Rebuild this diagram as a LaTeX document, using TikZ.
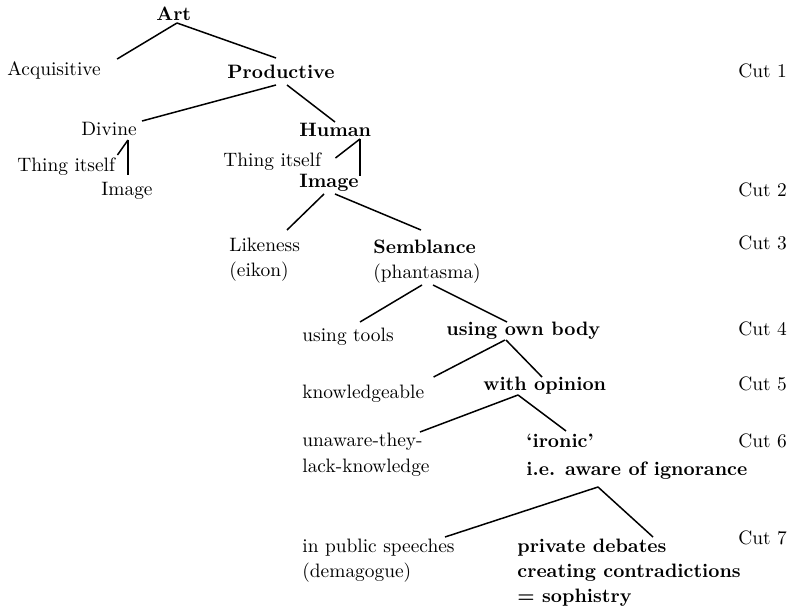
\documentclass[tikz,border=0pt]{standalone}
\usepackage{tikz}
\usetikzlibrary{calc}

\tikzset{
  lbl/.style={anchor=base west, inner sep=0pt, align=left, font=\fontsize{9.7}{12.5}\selectfont},
  key/.style={lbl, font=\fontsize{9.7}{12.5}\selectfont\bfseries},
  br/.style={line width=0.75pt, black},
}

\begin{document}
\begin{tikzpicture}[x=0.5pt,y=-0.5pt]
\useasboundingbox (0,0) rectangle (787,610);

% the division, top to bottom (multi-line nodes sit on their last line)
\node[key] (art) at (156,21) {Art};
\node[lbl] (acq) at (7,76) {Acquisitive};
\node[key] (prod) at (227,79) {Productive};
\node[lbl] (divine) at (81,135) {Divine};
\node[key] (human) at (299,136) {Human};
\node[lbl] (thing1) at (17,171) {Thing itself};
\node[lbl] (img1) at (101,195) {Image};
\node[lbl] (thing2) at (223,167) {Thing itself};
\node[key] (img2) at (299,187) {Image};
\node[lbl] (like) at (229,276) {Likeness\\(eikon)};
\node[lbl] (semb) at (373,278) {\textbf{Semblance}\\(phantasma)};
\node[lbl] (tools) at (302,341) {using tools};
\node[key] (body) at (446,335) {using own body};
\node[lbl] (knowl) at (302,398) {knowledgeable};
\node[key] (opin) at (483,390) {with opinion};
\node[lbl] (unaw) at (302,472) {unaware-they-\\[0.5pt]lack-knowledge};
\node[key] (iron) at (526,475) {`ironic'\\[1.5pt]i.e. aware of ignorance};
\node[lbl] (publ) at (302,577) {in public speeches\\(demagogue)};
\node[key] (priv) at (517,602) {private debates\\creating contradictions\\= sophistry};

% cuts
\node[lbl] (cut1) at (738,78) {Cut 1};
\node[lbl] (cut2) at (738,196) {Cut 2};
\node[lbl] (cut3) at (738,249) {Cut 3};
\node[lbl] (cut4) at (738,335) {Cut 4};
\node[lbl] (cut5) at (738,390) {Cut 5};
\node[lbl] (cut6) at (738,447) {Cut 6};
\node[lbl] (cut7) at (738,544) {Cut 7};

% branches
\draw[br] ($(art.base west)+(21,2)$) -- ($(acq.base east)+(16,-17)$);
\draw[br] ($(art.base west)+(21,2)$) -- ($(prod.base west)+(49,-21)$);
\draw[br] ($(prod.base west)+(49,6)$) -- ($(divine.base east)+(5,-14)$);
\draw[br] ($(prod.base west)+(60,6)$) -- ($(human.base west)+(36,-14)$);
\draw[br] ($(divine.base west)+(47,5)$) -- ($(img1.base west)+(27,-20)$);
\draw[br] ($(divine.base west)+(47,5)$) -- ($(thing1.base east)+(2,-16)$);
\draw[br] ($(human.base west)+(61,3)$) -- ($(img2.base west)+(61,-11)$);
\draw[br] ($(human.base west)+(61,3)$) -- ($(thing2.base east)+(14,-9)$);
\draw[br] ($(img2.base west)+(25,7)$) -- ($(like.base west)+(58,-46)$);
\draw[br] ($(img2.base west)+(36,7)$) -- ($(semb.base west)+(48,-48)$);
\draw[br] ($(semb.base west)+(49,7)$) -- ($(tools.base west)+(58,-19)$);
\draw[br] ($(semb.base west)+(60,7)$) -- ($(body.base west)+(61,-13)$);
\draw[br] ($(body.base west)+(59,5)$) -- ($(knowl.base east)+(9,-21)$);
\draw[br] ($(body.base west)+(60,5)$) -- ($(opin.base west)+(59,-13)$);
\draw[br] ($(opin.base west)+(35,5)$) -- ($(unaw.base west)+(118,-40)$);
\draw[br] ($(opin.base west)+(35,5)$) -- ($(iron.base west)+(40,-44)$);
\draw[br] ($(iron.base west)+(72,12)$) -- ($(publ.base west)+(143,-40)$);
\draw[br] ($(iron.base west)+(72,12)$) -- ($(priv.base west)+(136,-65)$);

\end{tikzpicture}
\end{document}
